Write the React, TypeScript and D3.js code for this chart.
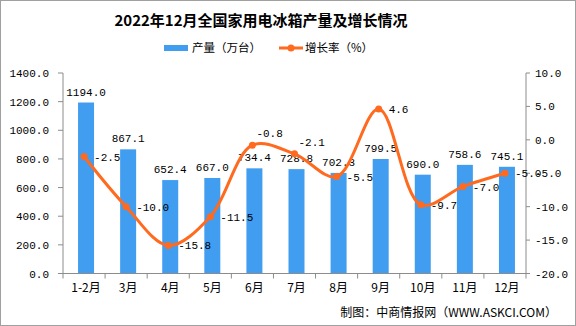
import React from "react";
import * as d3 from "d3";

const categories = ["1-2月", "3月", "4月", "5月", "6月", "7月", "8月", "9月", "10月", "11月", "12月"];
const production = [1194.0, 867.1, 652.4, 667.0, 734.4, 728.8, 702.3, 799.5, 690.0, 758.6, 745.1];
const growth = [-2.5, -10.0, -15.8, -11.5, -0.8, -2.1, -5.5, 4.6, -9.7, -7.0, -5.0];
const leftTicks = [0, 200, 400, 600, 800, 1000, 1200, 1400];
const rightTicks = [-20, -15, -10, -5, 0, 5, 10];
const title = "2022年12月全国家用电冰箱产量及增长情况";
const legendBar = "产量（万台）";
const legendLine = "增长率（%）";
const footer = "制图：中商情报网（WWW.ASKCI.COM）";

const W = 576;
const H = 326;
const plotL = 63;
const plotR = 526;
const plotT = 73;
const plotB = 273.5;
const BAR = "#419DF0";
const LINE = "#FF6A1F";
const AXIS = "#8C8C8C";
const NUM_FONT = "'Liberation Mono', 'DejaVu Sans Mono', monospace";
const CJK_FONT = "'Noto Sans CJK SC', 'Noto Sans', sans-serif";
const aboveLabels = new Set([4, 5]);

export default function App() {
  const x = d3.scaleBand<string>().domain(categories).range([plotL, plotR]).paddingInner(0).paddingOuter(0);
  const yL = d3.scaleLinear().domain([0, 1400]).range([plotB, plotT]);
  const yR = d3.scaleLinear().domain([-20, 10]).range([plotB, plotT]);
  const bw = 16;
  const cx = (c: string) => (x(c) as number) + x.bandwidth() / 2;

  const pts: [number, number][] = categories.map((c, i) => [cx(c), yR(growth[i])]);
  const line = d3.line<[number, number]>().curve(d3.curveCatmullRom.alpha(0.5))(pts) || "";

  const boundaries = d3.range(categories.length + 1).map((i) => plotL + i * x.bandwidth());

  return (
    <svg width={W} height={H} style={{ position: "absolute", left: 0, top: 0, background: "#fff" }}>
      <rect x={0.5} y={0.5} width={W - 1} height={H - 1} fill="#fff" stroke="#A0A0A0" />
      <text x={261} y={26} textAnchor="middle" fontFamily={CJK_FONT} fontWeight="bold" fontSize={15} fill="#000">
        {title}
      </text>
      {/* legend */}
      <rect x={164} y={45} width={24} height={6} fill={BAR} />
      <text x={192} y={52} fontFamily={CJK_FONT} fontSize={11.5} fill="#000">{legendBar}</text>
      <line x1={279} x2={303} y1={48} y2={48} stroke={LINE} strokeWidth={3} />
      <circle cx={291} cy={48} r={3.5} fill={LINE} />
      <text x={305} y={52} fontFamily={CJK_FONT} fontSize={11.5} fill="#000">{legendLine}</text>

      {/* bars */}
      {categories.map((c, i) => (
        <rect key={c} x={cx(c) - bw / 2 + 2} y={yL(production[i])} width={bw} height={plotB - yL(production[i])} fill={BAR} />
      ))}

      {/* axes */}
      <line x1={plotL} x2={plotL} y1={plotT} y2={plotB} stroke={AXIS} />
      <line x1={plotR} x2={plotR} y1={plotT} y2={plotB} stroke={AXIS} />
      <line x1={plotL} x2={plotR} y1={plotB} y2={plotB} stroke={AXIS} />
      {leftTicks.map((t) => (
        <g key={"l" + t}>
          <line x1={plotL - 5} x2={plotL} y1={yL(t)} y2={yL(t)} stroke={AXIS} />
          <text x={49} y={yL(t) + 4} textAnchor="end" fontFamily={NUM_FONT} fontSize={11} fill="#000">
            {t.toFixed(1)}
          </text>
        </g>
      ))}
      {rightTicks.map((t) => (
        <g key={"r" + t}>
          <line x1={plotR} x2={plotR + 4} y1={yR(t)} y2={yR(t)} stroke={AXIS} />
          <text x={535} y={yR(t) + 4} fontFamily={NUM_FONT} fontSize={11} fill="#000">
            {t.toFixed(1)}
          </text>
        </g>
      ))}
      {boundaries.map((b, i) => (
        <line key={"b" + i} x1={b} x2={b} y1={plotB} y2={plotB + 5} stroke={AXIS} />
      ))}
      {categories.map((c) => (
        <text key={"xl" + c} x={cx(c) + 2} y={292} textAnchor="middle" fontFamily={CJK_FONT} fontSize={12} fill="#000">
          {c}
        </text>
      ))}

      {/* bar labels */}
      {categories.map((c, i) => (
        <text key={"bl" + c} x={cx(c) + 2} y={yL(production[i]) - 7} textAnchor="middle" fontFamily={NUM_FONT} fontSize={11} fill="#000">
          {production[i].toFixed(1)}
        </text>
      ))}

      {/* line */}
      <path d={line} fill="none" stroke={LINE} strokeWidth={3} />
      {pts.map((p, i) => (
        <circle key={"p" + i} cx={p[0]} cy={p[1]} r={3.5} fill={LINE} />
      ))}
      {pts.map((p, i) => (
        <text
          key={"gl" + i}
          x={aboveLabels.has(i) ? p[0] + 4 : p[0] + 10}
          y={aboveLabels.has(i) ? p[1] - 8 : p[1] + 4}
          fontFamily={NUM_FONT}
          fontSize={11}
          fill="#000"
        >
          {growth[i].toFixed(1)}
        </text>
      ))}

      <text x={557} y={317} textAnchor="end" fontFamily={CJK_FONT} fontSize={12} fill="#000">
        {footer}
      </text>
    </svg>
  );
}
